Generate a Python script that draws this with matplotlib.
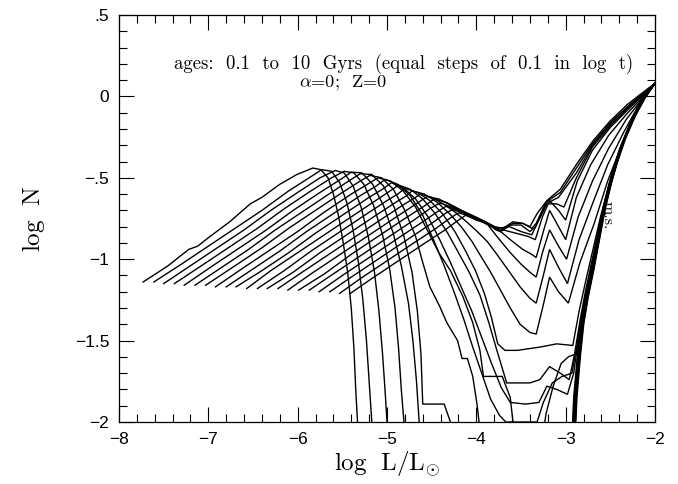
import numpy as np
import matplotlib
matplotlib.use("Agg")
import matplotlib.pyplot as plt
from matplotlib.ticker import MultipleLocator, FixedLocator, FixedFormatter

plt.rcParams['mathtext.fontset'] = 'cm'

GAP = (np.nan, np.nan)

# Luminosity functions, one per age: log t = 1.0, 0.9, ..., -1.0 (t in Gyr)
# each list holds (log L/Lsun, log N) points; GAP marks where the curve runs below the plot
lf_t100 = [(-7.73,-1.14),(-7.45,-1.04),(-7.22,-0.94),(-7.12,-0.92),(-6.98,-0.86),(-6.76,-0.77),
           (-6.53,-0.66),(-6.40,-0.62),(-6.20,-0.54),(-6.01,-0.48),(-5.83,-0.44),(-5.74,-0.45),
           (-5.66,-0.50),(-5.60,-0.60),(-5.54,-0.74),(-5.49,-0.90),(-5.44,-1.08),(-5.40,-1.30),
           (-5.37,-1.55),(-5.35,-1.80),(-5.33,-2.00),(-5.32,-2.10),GAP,
           (-2.930,-2.10),(-2.910,-1.85),(-2.870,-1.60),(-2.830,-1.40),(-2.780,-1.24),(-2.710,-1.06),
           (-2.650,-0.89),(-2.580,-0.69),(-2.500,-0.52),(-2.390,-0.32),(-2.280,-0.17),(-2.130,-0.01),(-2.00,0.08)]
lf_t079 = [(-7.61,-1.14),(-7.30,-1.03),(-7.00,-0.92),(-6.70,-0.81),(-6.40,-0.70),(-6.10,-0.58),
           (-5.90,-0.51),(-5.73,-0.45),(-5.62,-0.46),(-5.53,-0.53),(-5.45,-0.65),(-5.38,-0.82),
           (-5.32,-1.02),(-5.27,-1.25),(-5.23,-1.50),(-5.20,-1.75),(-5.17,-2.00),(-5.16,-2.10),GAP,
           (-2.925,-2.10),(-2.905,-1.85),(-2.865,-1.60),(-2.824,-1.40),(-2.774,-1.24),(-2.705,-1.06),
           (-2.645,-0.89),(-2.576,-0.69),(-2.497,-0.52),(-2.388,-0.32),(-2.279,-0.17),(-2.130,-0.01),(-2.00,0.08)]
lf_t063 = [(-7.50,-1.15),(-7.20,-1.04),(-6.90,-0.93),(-6.60,-0.82),(-6.30,-0.70),(-6.00,-0.59),
           (-5.75,-0.50),(-5.58,-0.455),(-5.48,-0.47),(-5.38,-0.55),(-5.29,-0.68),(-5.21,-0.86),
           (-5.14,-1.08),(-5.09,-1.32),(-5.05,-1.58),(-5.02,-1.82),(-5.00,-2.00),(-4.99,-2.10),GAP,
           (-2.918,-2.10),(-2.898,-1.85),(-2.859,-1.60),(-2.818,-1.40),(-2.769,-1.24),(-2.700,-1.06),
           (-2.641,-0.89),(-2.572,-0.69),(-2.494,-0.52),(-2.386,-0.32),(-2.278,-0.17),(-2.129,-0.01),(-2.00,0.08)]
lf_t050 = [(-7.38,-1.15),(-7.05,-1.03),(-6.75,-0.92),(-6.45,-0.81),(-6.15,-0.69),(-5.85,-0.58),
           (-5.62,-0.50),(-5.48,-0.46),(-5.37,-0.47),(-5.26,-0.54),(-5.15,-0.67),(-5.05,-0.85),
           (-4.97,-1.06),(-4.91,-1.30),(-4.87,-1.55),(-4.84,-1.80),(-4.81,-2.00),(-4.80,-2.10),GAP,
           (-2.912,-2.10),(-2.892,-1.85),(-2.853,-1.60),(-2.813,-1.40),(-2.764,-1.24),(-2.696,-1.06),
           (-2.637,-0.89),(-2.568,-0.69),(-2.491,-0.52),(-2.384,-0.32),(-2.277,-0.17),(-2.129,-0.01),(-2.00,0.08)]
lf_t040 = [(-7.27,-1.16),(-6.95,-1.04),(-6.65,-0.93),(-6.35,-0.82),(-6.05,-0.70),(-5.75,-0.59),
           (-5.52,-0.51),(-5.40,-0.465),(-5.28,-0.47),(-5.16,-0.54),(-5.04,-0.67),(-4.93,-0.84),
           (-4.84,-1.04),(-4.76,-1.27),(-4.71,-1.50),(-4.67,-1.75),(-4.64,-2.00),(-4.63,-2.10),GAP,
           (-2.906,-2.10),(-2.886,-1.85),(-2.847,-1.60),(-2.808,-1.40),(-2.759,-1.24),(-2.691,-1.06),
           (-2.633,-0.89),(-2.564,-0.69),(-2.488,-0.52),(-2.382,-0.32),(-2.276,-0.17),(-2.128,-0.01),(-2.00,0.08)]
lf_t032 = [(-7.15,-1.16),(-6.85,-1.05),(-6.55,-0.94),(-6.25,-0.82),(-5.95,-0.71),(-5.65,-0.60),
           (-5.43,-0.52),(-5.30,-0.475),(-5.17,-0.48),(-5.04,-0.55),(-4.92,-0.68),(-4.81,-0.86),
           (-4.72,-1.08),(-4.66,-1.32),(-4.62,-1.58),(-4.60,-1.89),(-4.36,-1.89),(-4.29,-2.00),(-4.27,-2.10),GAP,
           (-2.900,-2.10),(-2.880,-1.85),(-2.841,-1.60),(-2.803,-1.40),(-2.754,-1.24),(-2.687,-1.06),
           (-2.629,-0.89),(-2.560,-0.69),(-2.485,-0.52),(-2.380,-0.32),(-2.275,-0.17),(-2.128,-0.01),(-2.00,0.08)]
lf_t025 = [(-7.03,-1.16),(-6.70,-1.04),(-6.40,-0.93),(-6.10,-0.81),(-5.80,-0.70),(-5.50,-0.59),
           (-5.30,-0.52),(-5.19,-0.485),(-5.06,-0.50),(-4.93,-0.57),(-4.80,-0.70),(-4.68,-0.86),
           (-4.60,-1.02),(-4.52,-1.17),(-4.41,-1.29),(-4.33,-1.39),(-4.21,-1.50),(-4.16,-1.61),
           (-4.10,-1.61),(-4.04,-1.72),(-3.99,-1.90),(-3.97,-2.00),(-3.96,-2.10),GAP,
           (-2.894,-2.10),(-2.874,-1.85),(-2.836,-1.60),(-2.798,-1.40),(-2.750,-1.24),(-2.683,-1.06),
           (-2.625,-0.89),(-2.557,-0.69),(-2.482,-0.52),(-2.378,-0.32),(-2.274,-0.17),(-2.127,-0.01),(-2.00,0.08)]
lf_t020 = [(-6.92,-1.17),(-6.60,-1.05),(-6.30,-0.94),(-6.00,-0.83),(-5.70,-0.71),(-5.40,-0.60),
           (-5.22,-0.54),(-5.10,-0.50),(-4.96,-0.52),(-4.82,-0.58),(-4.68,-0.68),(-4.55,-0.82),
           (-4.42,-0.96),(-4.29,-1.07),(-4.15,-1.23),(-4.04,-1.39),(-3.96,-1.56),(-3.92,-1.72),
           (-3.71,-1.72),(-3.62,-1.85),(-3.59,-2.00),(-3.58,-2.10),GAP,
           (-3.26,-2.10),(-3.22,-1.95),(-3.14,-1.78),(-3.05,-1.64),(-2.97,-1.60),(-2.88,-1.58),
           (-2.84,-1.42),(-2.79,-1.26),(-2.72,-1.08),(-2.66,-0.91),(-2.59,-0.71),(-2.51,-0.53),
           (-2.40,-0.33),(-2.29,-0.18),(-2.14,-0.02),(-2.00,0.08)]
lf_t016 = [(-6.80,-1.17),(-6.50,-1.06),(-6.20,-0.95),(-5.90,-0.83),(-5.60,-0.72),(-5.30,-0.61),
           (-5.12,-0.55),(-5.02,-0.51),(-4.88,-0.54),(-4.74,-0.61),(-4.60,-0.73),(-4.48,-0.88),
           (-4.36,-1.04),(-4.25,-1.20),(-4.14,-1.37),(-4.04,-1.54),(-3.94,-1.70),(-3.84,-1.86),
           (-3.74,-1.96),(-3.67,-2.00),(-3.32,-2.00),(-3.25,-1.88),(-3.15,-1.76),(-3.04,-1.72),
           (-2.93,-1.70),(-2.87,-1.52),(-2.82,-1.36),(-2.76,-1.19),(-2.69,-1.01),(-2.62,-0.82),
           (-2.55,-0.63),(-2.46,-0.46),(-2.36,-0.29),(-2.25,-0.15),(-2.12,-0.01),(-2.00,0.08)]
lf_t013 = [(-6.69,-1.17),(-6.40,-1.07),(-6.10,-0.96),(-5.80,-0.84),(-5.50,-0.73),(-5.20,-0.62),
           (-5.05,-0.57),(-4.95,-0.53),(-4.82,-0.56),(-4.68,-0.63),(-4.54,-0.74),(-4.41,-0.88),
           (-4.29,-1.02),(-4.17,-1.17),(-4.05,-1.32),(-3.94,-1.48),(-3.83,-1.64),(-3.72,-1.79),
           (-3.62,-1.88),(-3.45,-1.89),(-3.30,-1.88),(-3.21,-1.78),(-3.10,-1.80),(-2.98,-1.83),
           (-2.91,-1.70),(-2.86,-1.50),(-2.80,-1.32),(-2.74,-1.14),(-2.67,-0.96),(-2.60,-0.77),
           (-2.52,-0.59),(-2.43,-0.42),(-2.33,-0.26),(-2.22,-0.12),(-2.11,-0.01),(-2.00,0.08)]
lf_t010 = [(-6.57,-1.18),(-6.30,-1.07),(-6.00,-0.96),(-5.70,-0.85),(-5.40,-0.74),(-5.10,-0.63),
           (-4.95,-0.575),(-4.87,-0.545),(-4.74,-0.57),(-4.60,-0.63),(-4.46,-0.72),(-4.32,-0.84),
           (-4.20,-0.96),(-4.08,-1.08),(-3.96,-1.22),(-3.86,-1.39),(-3.77,-1.56),(-3.66,-1.76),
           (-3.40,-1.76),(-3.29,-1.74),(-3.18,-1.66),(-3.06,-1.70),(-2.96,-1.74),(-2.90,-1.58),
           (-2.84,-1.38),(-2.78,-1.20),(-2.71,-1.02),(-2.64,-0.84),(-2.56,-0.64),(-2.48,-0.47),
           (-2.38,-0.30),(-2.26,-0.15),(-2.13,-0.02),(-2.00,0.08)]
lf_t008 = [(-6.45,-1.18),(-6.15,-1.07),(-5.85,-0.95),(-5.55,-0.84),(-5.25,-0.73),(-5.00,-0.64),
           (-4.88,-0.60),(-4.80,-0.565),(-4.66,-0.59),(-4.52,-0.64),(-4.38,-0.72),(-4.24,-0.83),
           (-4.12,-0.95),(-4.01,-1.07),(-3.91,-1.21),(-3.83,-1.36),(-3.76,-1.52),(-3.68,-1.56),
           (-3.54,-1.56),(-3.29,-1.54),(-3.10,-1.52),(-2.92,-1.53),(-2.85,-1.32),(-2.77,-1.12),
           (-2.69,-0.93),(-2.61,-0.74),(-2.52,-0.55),(-2.42,-0.37),(-2.30,-0.20),(-2.16,-0.04),(-2.00,0.08)]
lf_t006 = [(-6.34,-1.18),(-6.05,-1.08),(-5.75,-0.96),(-5.45,-0.85),(-5.15,-0.74),(-4.90,-0.65),
           (-4.78,-0.61),(-4.72,-0.58),(-4.58,-0.60),(-4.44,-0.65),(-4.30,-0.72),(-4.17,-0.80),
           (-4.05,-0.89),(-3.94,-0.99),(-3.84,-1.08),(-3.74,-1.18),(-3.62,-1.30),(-3.51,-1.40),
           (-3.40,-1.45),(-3.33,-1.46),(-3.25,-1.28),(-3.18,-1.11),(-3.08,-1.20),(-2.97,-1.27),
           (-2.84,-1.02),(-2.68,-0.78),(-2.53,-0.52),(-2.36,-0.28),(-2.17,-0.05),(-2.00,0.08)]
lf_t005 = [(-6.22,-1.18),(-5.95,-1.08),(-5.65,-0.97),(-5.35,-0.86),(-5.05,-0.75),(-4.80,-0.66),
           (-4.68,-0.62),(-4.63,-0.60),(-4.50,-0.62),(-4.37,-0.66),(-4.24,-0.71),(-4.11,-0.77),
           (-3.99,-0.83),(-3.88,-0.89),(-3.77,-0.97),(-3.64,-1.07),(-3.51,-1.17),(-3.40,-1.24),
           (-3.33,-1.27),(-3.25,-1.10),(-3.18,-0.94),(-3.08,-1.05),(-2.98,-1.15),(-2.85,-0.88),
           (-2.70,-0.66),(-2.53,-0.42),(-2.35,-0.22),(-2.16,-0.03),(-2.00,0.08)]
lf_t004 = [(-6.11,-1.19),(-5.85,-1.09),(-5.55,-0.98),(-5.25,-0.87),(-4.95,-0.76),(-4.70,-0.67),
           (-4.55,-0.615),(-4.42,-0.63),(-4.28,-0.67),(-4.14,-0.71),(-4.00,-0.75),(-3.87,-0.79),
           (-3.77,-0.86),(-3.62,-0.96),(-3.50,-1.03),(-3.40,-1.08),(-3.33,-1.11),(-3.26,-0.96),
           (-3.18,-0.82),(-3.08,-0.92),(-2.99,-1.00),(-2.86,-0.74),(-2.70,-0.52),(-2.52,-0.32),
           (-2.32,-0.14),(-2.15,-0.02),(-2.00,0.08)]
lf_t003 = [(-5.99,-1.19),(-5.70,-1.09),(-5.40,-0.97),(-5.10,-0.86),(-4.80,-0.75),(-4.60,-0.68),
           (-4.47,-0.63),(-4.34,-0.65),(-4.20,-0.69),(-4.05,-0.73),(-3.90,-0.77),(-3.77,-0.81),
           (-3.62,-0.88),(-3.48,-0.94),(-3.38,-0.97),(-3.33,-0.99),(-3.25,-0.83),(-3.18,-0.70),
           (-3.08,-0.80),(-3.00,-0.88),(-2.88,-0.62),(-2.72,-0.42),(-2.52,-0.24),(-2.32,-0.11),
           (-2.15,-0.01),(-2.00,0.08)]
lf_t0025 = [(-5.87,-1.19),(-5.60,-1.09),(-5.30,-0.98),(-5.00,-0.87),(-4.70,-0.76),(-4.52,-0.69),
            (-4.41,-0.655),(-4.27,-0.68),(-4.12,-0.72),(-3.96,-0.76),(-3.82,-0.80),(-3.70,-0.82),
            (-3.56,-0.84),(-3.42,-0.86),(-3.34,-0.88),(-3.26,-0.74),(-3.18,-0.64),(-3.08,-0.70),
            (-3.00,-0.76),(-2.87,-0.52),(-2.70,-0.33),(-2.50,-0.19),(-2.30,-0.08),(-2.15,0.00),(-2.00,0.08)]
lf_t0020 = [(-5.76,-1.20),(-5.50,-1.10),(-5.20,-0.99),(-4.90,-0.88),(-4.60,-0.77),(-4.44,-0.71),
            (-4.34,-0.675),(-4.20,-0.70),(-4.05,-0.73),(-3.90,-0.77),(-3.76,-0.81),(-3.63,-0.80),
            (-3.50,-0.83),(-3.38,-0.85),(-3.30,-0.76),(-3.21,-0.66),(-3.10,-0.66),(-3.02,-0.68),
            (-2.88,-0.50),(-2.70,-0.31),(-2.50,-0.18),(-2.30,-0.07),(-2.15,0.00),(-2.00,0.08)]
lf_t0016 = [(-5.64,-1.20),(-5.40,-1.11),(-5.10,-1.00),(-4.80,-0.89),(-4.50,-0.78),(-4.35,-0.72),
            (-4.27,-0.695),(-4.12,-0.72),(-3.98,-0.75),(-3.85,-0.79),(-3.73,-0.83),(-3.62,-0.79),
            (-3.50,-0.79),(-3.40,-0.83),(-3.34,-0.80),(-3.22,-0.66),(-3.08,-0.62),(-2.88,-0.47),
            (-2.70,-0.30),(-2.50,-0.17),(-2.30,-0.06),(-2.15,0.01),(-2.00,0.08)]
lf_t0013 = [(-5.53,-1.21),(-5.30,-1.12),(-5.00,-1.01),(-4.70,-0.90),(-4.45,-0.81),(-4.30,-0.75),
            (-4.20,-0.715),(-4.05,-0.74),(-3.92,-0.77),(-3.80,-0.80),(-3.70,-0.81),(-3.59,-0.77),
            (-3.48,-0.78),(-3.38,-0.81),(-3.33,-0.78),(-3.22,-0.65),(-3.06,-0.59),(-2.88,-0.44),
            (-2.70,-0.29),(-2.50,-0.16),(-2.30,-0.06),(-2.15,0.01),(-2.00,0.08)]
lf_t0010 = [(-5.41,-1.21),(-5.20,-1.13),(-4.90,-1.02),(-4.60,-0.91),(-4.35,-0.82),(-4.20,-0.76),
            (-4.12,-0.73),(-4.00,-0.76),(-3.88,-0.78),(-3.78,-0.82),(-3.73,-0.83),(-3.59,-0.78),
            (-3.48,-0.78),(-3.40,-0.80),(-3.32,-0.72),(-3.21,-0.64),(-3.06,-0.57),(-2.87,-0.41),
            (-2.69,-0.27),(-2.50,-0.15),(-2.31,-0.05),(-2.17,0.01),(-2.00,0.08)]

curves = [lf_t100, lf_t079, lf_t063, lf_t050, lf_t040, lf_t032, lf_t025, lf_t020, lf_t016,
          lf_t013, lf_t010, lf_t008, lf_t006, lf_t005, lf_t004, lf_t003, lf_t0025, lf_t0020,
          lf_t0016, lf_t0013, lf_t0010]

xtick_values = [-8, -7, -6, -5, -4, -3, -2]
xtick_labels = ['\u22128', '\u22127', '\u22126', '\u22125', '\u22124', '\u22123', '\u22122']
ytick_values = [0.5, 0.0, -0.5, -1.0, -1.5, -2.0]
ytick_labels = ['.5', '0', '\u2212.5', '\u22121', '\u22121.5', '\u22122']

fig = plt.figure(figsize=(6.78, 4.84), dpi=100)
ax = fig.add_axes([119 / 678, 1 - 422 / 484, 536 / 678, 407 / 484])

for pts in curves:
    arr = np.array(pts, dtype=float)
    ax.plot(arr[:, 0], arr[:, 1], color='black', lw=1.0, solid_joinstyle='miter')

ax.set_xlim(-8, -2)
ax.set_ylim(-2, 0.5)

ax.xaxis.set_major_locator(FixedLocator(xtick_values))
ax.xaxis.set_major_formatter(FixedFormatter(xtick_labels))
ax.xaxis.set_minor_locator(MultipleLocator(0.2))
ax.yaxis.set_major_locator(FixedLocator(ytick_values))
ax.yaxis.set_major_formatter(FixedFormatter(ytick_labels))
ax.yaxis.set_minor_locator(MultipleLocator(0.1))

ax.tick_params(which='both', direction='in', top=True, right=True, width=0.8, colors='black')
ax.tick_params(which='major', length=11, pad=7, labelsize=12.5)
ax.tick_params(which='minor', length=5.5)
for lab in ax.get_xticklabels() + ax.get_yticklabels():
    lab.set_fontfamily('Liberation Sans')
for s in ax.spines.values():
    s.set_linewidth(0.9)

ax.set_xlabel(r'$\mathrm{log}\ \ \mathrm{L/L}_{\odot}$', fontsize=18, labelpad=2)
ax.set_ylabel(r'$\mathrm{log}\ \ \mathrm{N}$', fontsize=18, labelpad=20)

ax.text(-7.38, 0.20, 'ages:  0.1  to  10  Gyrs  (equal  steps  of  0.1  in  log  t)',
        family='cmr10', fontsize=13.5, ha='left', va='center')
ax.text(-5.98, 0.085, r'$\alpha$=0;  Z=0', family='cmr10', fontsize=13.2, ha='left', va='center')
ax.text(-2.53, -0.73, 'm.s.', family='cmr10', fontsize=11.5, rotation=-90, ha='center', va='center')

fig.savefig('out.png', dpi=100)
